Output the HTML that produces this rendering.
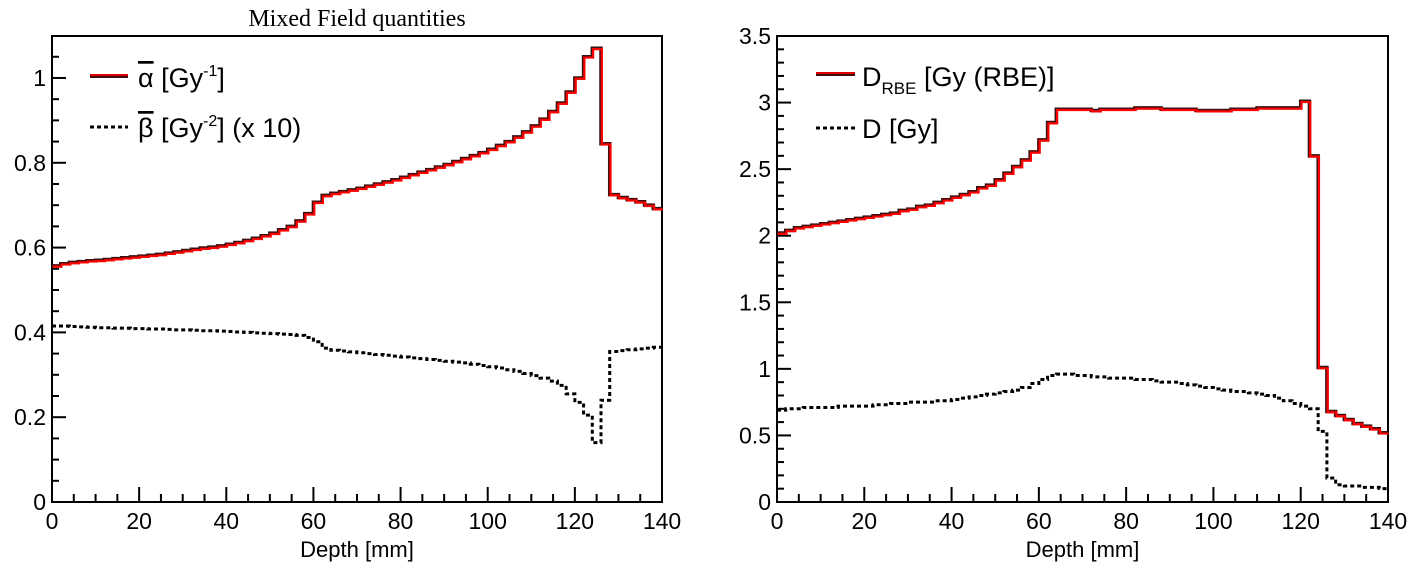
<!DOCTYPE html>
<html><head><meta charset="utf-8"><style>
html,body{margin:0;padding:0;background:#fff;}
svg{display:block;font-family:"Liberation Sans",sans-serif;}
</style></head><body>
<svg id="c" width="1417" height="572" viewBox="0 0 1417 572" xmlns="http://www.w3.org/2000/svg">
<text x="357" y="26" font-family="Liberation Serif, serif" font-size="24" text-anchor="middle">Mixed Field quantities</text>
<g id="L"></g>
<g id="R"></g>
</svg>
<script>
const binsStart = [0,2,4,6,8,10,12,14,16,18,20,22,24,26,28,30,32,34,36,38,40,42,44,46,48,50,52,54,56,58,60,62,64,66,68,70,72,74,76,78,80,82,84,86,88,90,92,94,96,98,100,102,104,106,108,110,112,114,116,118,120,122,124,126,128,130,132,134,136,138];
const alphaVals = [0.557,0.562,0.565,0.567,0.569,0.570,0.572,0.574,0.576,0.578,0.580,0.582,0.584,0.587,0.590,0.593,0.596,0.599,0.601,0.604,0.608,0.612,0.617,0.622,0.628,0.634,0.642,0.650,0.663,0.680,0.707,0.723,0.728,0.732,0.736,0.740,0.745,0.750,0.755,0.760,0.766,0.772,0.778,0.784,0.790,0.796,0.803,0.810,0.817,0.824,0.832,0.841,0.850,0.861,0.873,0.887,0.903,0.921,0.941,0.967,1.000,1.050,1.070,0.845,0.725,0.718,0.713,0.708,0.700,0.692];
const betaVals = [0.415,0.415,0.414,0.413,0.412,0.411,0.411,0.410,0.410,0.409,0.409,0.408,0.408,0.407,0.406,0.406,0.405,0.404,0.404,0.403,0.402,0.401,0.400,0.399,0.398,0.397,0.396,0.395,0.393,0.388,0.378,0.363,0.358,0.356,0.354,0.352,0.350,0.348,0.346,0.344,0.342,0.340,0.338,0.336,0.334,0.332,0.330,0.328,0.325,0.322,0.319,0.316,0.312,0.308,0.303,0.298,0.292,0.285,0.275,0.255,0.235,0.205,0.140,0.240,0.355,0.357,0.359,0.361,0.363,0.365];
const drbeVals = [2.02,2.04,2.06,2.07,2.08,2.09,2.10,2.11,2.12,2.13,2.14,2.15,2.16,2.17,2.19,2.20,2.22,2.23,2.25,2.27,2.29,2.31,2.33,2.36,2.38,2.42,2.47,2.52,2.57,2.63,2.72,2.85,2.95,2.95,2.95,2.95,2.94,2.95,2.95,2.95,2.95,2.96,2.96,2.96,2.95,2.95,2.95,2.95,2.94,2.94,2.94,2.94,2.95,2.95,2.95,2.96,2.96,2.96,2.96,2.96,3.01,2.60,1.01,0.68,0.65,0.62,0.59,0.57,0.55,0.52];
const doseVals = [0.69,0.70,0.70,0.71,0.71,0.71,0.71,0.72,0.72,0.72,0.72,0.73,0.73,0.74,0.74,0.75,0.75,0.75,0.76,0.76,0.77,0.78,0.79,0.80,0.81,0.82,0.83,0.84,0.86,0.89,0.92,0.95,0.96,0.96,0.95,0.95,0.94,0.94,0.93,0.93,0.93,0.92,0.92,0.91,0.90,0.90,0.89,0.88,0.87,0.86,0.85,0.84,0.83,0.83,0.82,0.81,0.80,0.78,0.76,0.74,0.72,0.70,0.53,0.18,0.13,0.12,0.12,0.11,0.11,0.10];
const xTicks = [0,20,40,60,80,100,120,140];
const leftYTicks = [0,0.2,0.4,0.6,0.8,1];
const rightYTicks = [0,0.5,1,1.5,2,2.5,3,3.5];
const binWidth = 2;
const NS = "http://www.w3.org/2000/svg";
function mk(parent, tag, attrs){const e=document.createElementNS(NS,tag);for(const k in attrs)e.setAttribute(k,attrs[k]);parent.appendChild(e);return e;}

function panel(g, x0, x1, yTop, yBot, yMax, yMajor, yMinor, yTicks, series, prefix){
  const sx = v => x0 + (v/140)*(x1-x0);
  const sy = v => yBot - (v/yMax)*(yBot-yTop);
  const frame = mk(g,'rect',{x:x0,y:yTop,width:x1-x0,height:yBot-yTop,fill:'none',stroke:'#000','stroke-width':2});
  
  
  // y ticks
  for(let v=0; v<=yMax+1e-9; v+=yMinor){
    const maj = Math.abs(v/yMajor - Math.round(v/yMajor))<1e-6;
    const t = mk(g,'line',{x1:x0,x2:x0+(maj?14:7),y1:sy(v),y2:sy(v),stroke:'#000','stroke-width':2});
    
    
  }
  yTicks.forEach(v=>{
    const t = mk(g,'text',{x:x0-6,y:sy(v)+8,'font-size':23,'text-anchor':'end'});
    t.textContent = String(v);
    
    
  });
  for(let v=0; v<=140; v+=5){
    const maj = v%20===0;
    const t = mk(g,'line',{x1:sx(v),x2:sx(v),y1:yBot,y2:yBot-(maj?15:8),stroke:'#000','stroke-width':2});
    
    
  }
  xTicks.forEach(v=>{
    const t = mk(g,'text',{x:sx(v),y:yBot+27,'font-size':23,'text-anchor':'middle'});
    t.textContent = String(v);
    
    
  });
  const xl = mk(g,'text',{x:(x0+x1)/2,y:yBot+55,'font-size':22,'text-anchor':'middle'});
  xl.textContent = 'Depth [mm]';
  
  
  series.forEach(s=>{
    let d='';
    s.vals.forEach((v,i)=>{
      const xa=sx(binsStart[i]), xb=sx(binsStart[i]+binWidth), y=sy(v);
      d += (i===0?'M':'L')+xa+','+y+' L'+xb+','+y+' ';
    });
    if(s.red){
      const u = mk(g,'path',{d:d,fill:'none',stroke:'#3a1010','stroke-width':3.5});
      
      
      const p = mk(g,'path',{d:d,fill:'none',stroke:'#ff0000','stroke-width':2.2,transform:'translate(0.8,0.8)'});
      
      
    } else {
      const p = mk(g,'path',{d:d,fill:'none',stroke:'#000','stroke-width':3,'stroke-dasharray':'4 3'});
      
      
    }
  });
}

const L = document.getElementById('L'), R = document.getElementById('R');
panel(L, 52, 662, 36, 502, 1.099, 0.2, 0.05, leftYTicks,
  [{vals:alphaVals, red:true, name:'alpha-series'},{vals:betaVals, red:false, name:'beta-series'}], 'left');
panel(R, 777, 1388, 36, 502, 3.5, 0.5, 0.1, rightYTicks,
  [{vals:drbeVals, red:true, name:'drbe-series'},{vals:doseVals, red:false, name:'dose-series'}], 'right');
</script>
<svg style="position:absolute;left:0;top:0" width="1417" height="572">
<g font-family="Liberation Sans, sans-serif">
<line x1="90" y1="76" x2="128" y2="76" stroke="#3a1010" stroke-width="4"/>
<line x1="90" y1="75" x2="128" y2="75" stroke="#e00000" stroke-width="2"/>
<text x="138" y="87" font-size="27"><tspan text-decoration="overline">α</tspan> [Gy<tspan dy="-11" font-size="16">-1</tspan><tspan dy="11">]</tspan></text>
<line x1="90" y1="127" x2="128" y2="127" stroke="#000" stroke-width="3" stroke-dasharray="4 3"/>
<text x="138" y="137" font-size="27"><tspan text-decoration="overline">β</tspan> [Gy<tspan dy="-11" font-size="16">-2</tspan><tspan dy="11">] (x 10)</tspan></text>
</g>
<g font-family="Liberation Sans, sans-serif">
<line x1="816" y1="74" x2="855" y2="74" stroke="#3a1010" stroke-width="4"/>
<line x1="816" y1="73" x2="855" y2="73" stroke="#e00000" stroke-width="2"/>
<text x="862" y="86" font-size="27">D<tspan dy="8" font-size="17">RBE</tspan><tspan dy="-8"> [Gy (RBE)]</tspan></text>
<line x1="816" y1="128" x2="855" y2="128" stroke="#000" stroke-width="3" stroke-dasharray="4 3"/>
<text x="862" y="138" font-size="27">D [Gy]</text>
</g>
</svg>
</body></html>
